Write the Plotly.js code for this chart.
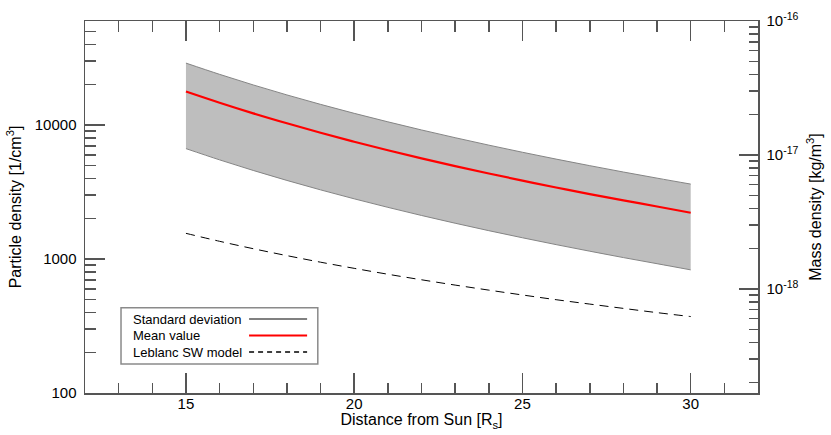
<!DOCTYPE html>
<html>
<head>
<meta charset="utf-8">
<script src="https://cdn.plot.ly/plotly-3.0.1.min.js"></script>
<style>html,body{margin:0;padding:0;background:#fff;}#chart{width:831px;height:435px;}</style>
</head>
<body>
<div id="chart"></div>
<script>
// Distance from Sun [Rs]
const distance = [15,16,17,18,19,20,21,22,23,24,25,26,27,28,29,30];
// Particle density [1/cm^3]
const stdUpper = [29000,23900,19920,16780,14270,12230,10570,9190,8045,7080,6265,5570,4975,4460,4015,3625];
const stdLower = [6670,5496,4582,3860,3282,2814,2431,2114,1850,1628,1441,1281,1144,1025,923,830];
const meanValue = [17800,14680,12230,10310,8760,7510,6490,5645,4940,4350,3850,3420,3050,2740,2465,2215];
const leblanc = [1555,1356,1194,1060,947,852,770,700,639,586,539,497,461,428,398,372];
const legendLabels = ["Standard deviation","Mean value","Leblanc SW model"];
// Right axis (mass density, kg/m^3) tick values and labels
const massTickVals = [1e-18, 1e-17, 1e-16];
const massTickText = ["10<sup>-18</sup>", "10<sup>-17</sup>", "10<sup>-16</sup>"];

const PROTON_MASS = 1.6726e-27; // kg, converts 1/cm^3 to kg/m^3
const FONT = "Liberation Sans, Arial, Helvetica, sans-serif";
const axisCol = "#555555";

const yMinLog = 2;
const yMaxLog = Math.log10(1e-16 / (PROTON_MASS * 1e6));
const meanMass = meanValue.map(v => v * PROTON_MASS * 1e6);

const traces = [
  {x: distance, y: stdUpper, mode: "lines", line: {color: "#858585", width: 1, shape: "spline"}, hoverinfo: "skip"},
  {x: distance, y: stdLower, mode: "lines", fill: "tonexty", fillcolor: "#bebebe", line: {color: "#858585", width: 1, shape: "spline"}, hoverinfo: "skip"},
  {x: distance, y: meanValue, mode: "lines", line: {color: "#ff0000", width: 2.2, shape: "spline"}},
  {x: distance, y: leblanc, mode: "lines", line: {color: "#000000", width: 1, dash: "9px,6px", shape: "spline"}},
  // same mean curve expressed as mass density on the right axis (transparent, coincides with the red line)
  {x: distance, y: meanMass, yaxis: "y2", mode: "lines", line: {color: "rgba(255,0,0,0)", width: 0}, hoverinfo: "skip"}
];

function px2x(p){ return (p - 85) / 672.7; }
function px2y(p){ return (393 - p) / 372; }

const legendRows = [319, 335.5, 352];
const legendStyles = [
  {color: "#808080", width: 2.2},
  {color: "#ff0000", width: 2.2},
  {color: "#000000", width: 1.5, dash: "5px,4px"}
];
const shapes = [{
  type: "rect", xref: "paper", yref: "paper",
  x0: px2x(121), x1: px2x(317.7), y0: px2y(364), y1: px2y(307.7),
  line: {color: "#8a8a8a", width: 1.5}, fillcolor: "rgba(255,255,255,0)"
}];
const annotations = [];
legendLabels.forEach((t, i) => {
  shapes.push({type: "line", xref: "paper", yref: "paper",
    x0: px2x(249), x1: px2x(307), y0: px2y(legendRows[i]), y1: px2y(legendRows[i]),
    line: legendStyles[i]});
  annotations.push({xref: "paper", yref: "paper", x: px2x(131), y: px2y(legendRows[i]),
    xanchor: "left", yanchor: "middle", text: t, showarrow: false,
    font: {family: FONT, size: 13, color: "#000"}});
});

const layout = {
  width: 831, height: 435,
  margin: {l: 85, r: 73.3, t: 21, b: 42},
  paper_bgcolor: "#fff", plot_bgcolor: "#fff",
  showlegend: false,
  font: {family: FONT, size: 15, color: "#000"},
  xaxis: {
    range: [12, 32], dtick: 5, tick0: 0,
    ticks: "inside", ticklen: 20, tickwidth: 1.5, tickcolor: axisCol,
    showline: true, linecolor: axisCol, linewidth: 1.5, mirror: "ticks",
    showgrid: false, zeroline: false, ticklabelstandoff: -4,
    minor: {dtick: 1, ticks: "inside", ticklen: 10.5, tickwidth: 1.5, tickcolor: axisCol, showgrid: false},
    tickfont: {family: FONT, size: 15, color: "#000"},
    title: {text: "Distance from Sun [R<sub>s</sub>]", font: {family: FONT, size: 16, color: "#000"}, standoff: 0}
  },
  yaxis: {
    type: "log", range: [yMinLog, yMaxLog], dtick: 1, tickformat: "d",
    ticks: "inside", ticklen: 20, tickwidth: 1.5, tickcolor: axisCol,
    showline: true, linecolor: axisCol, linewidth: 1.5, mirror: false,
    showgrid: false, zeroline: false, ticklabelstandoff: 4,
    minor: {dtick: "D1", ticks: "inside", ticklen: 10.5, tickwidth: 1.5, tickcolor: axisCol, showgrid: false},
    tickfont: {family: FONT, size: 15, color: "#000"},
    title: {text: "Particle density [1/cm<sup>3</sup>]", font: {family: FONT, size: 16, color: "#000"}, standoff: 9}
  },
  yaxis2: {
    type: "log", overlaying: "y", side: "right", anchor: "x",
    range: [Math.log10(Math.pow(10, yMinLog) * PROTON_MASS * 1e6), -16],
    tickmode: "array", tickvals: massTickVals, ticktext: massTickText,
    ticks: "inside", ticklen: 19, tickwidth: 1.5, tickcolor: axisCol,
    showline: true, linecolor: axisCol, linewidth: 1.5,
    showgrid: false, zeroline: false, ticklabelstandoff: 4,
    minor: {dtick: "D1", ticks: "inside", ticklen: 9, tickwidth: 1.5, tickcolor: axisCol, showgrid: false},
    tickfont: {family: FONT, size: 15, color: "#000"},
    title: {text: "Mass density [kg/m<sup>3</sup>]", font: {family: FONT, size: 16, color: "#000"}, standoff: 12}
  },
  shapes: shapes,
  annotations: annotations
};

Plotly.newPlot("chart", traces, layout, {displayModeBar: false, staticPlot: true});
</script>
</body>
</html>
